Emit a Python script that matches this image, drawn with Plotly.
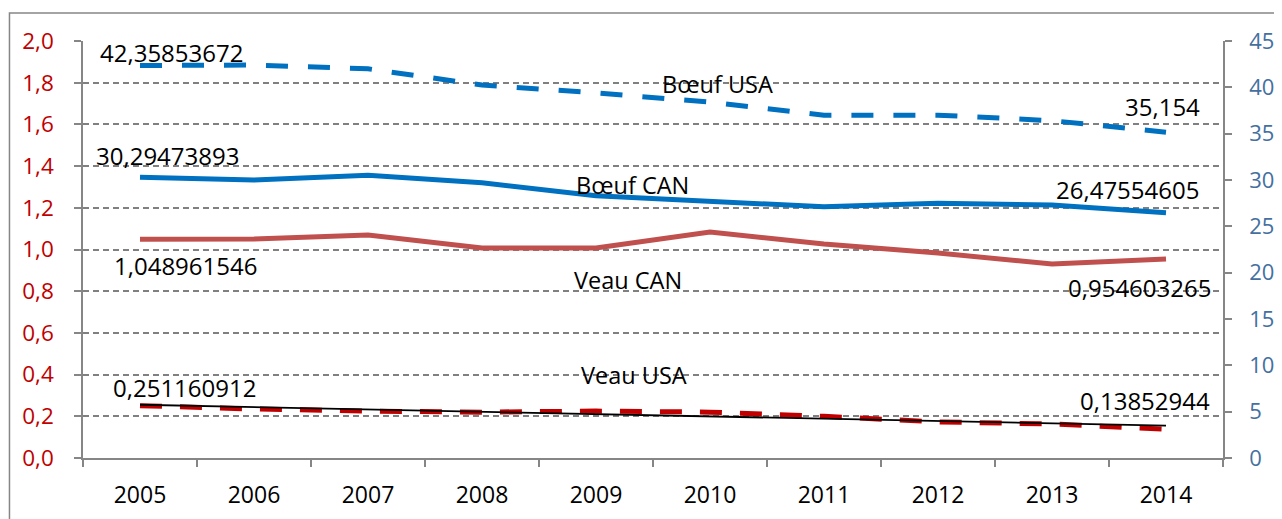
import numpy as np
import plotly.graph_objects as go

years = ["2005", "2006", "2007", "2008", "2009", "2010", "2011", "2012", "2013", "2014"]
boeuf_usa = [42.35853672, 42.4, 42.0, 40.25, 39.4, 38.4, 37.0, 37.0, 36.4, 35.154]
boeuf_can = [30.29473893, 30.0, 30.5, 29.7, 28.3, 27.7, 27.1, 27.5, 27.3, 26.47554605]
veau_can = [1.048961546, 1.05, 1.07, 1.007, 1.007, 1.084, 1.026, 0.983, 0.930, 0.954603265]
veau_usa = [0.251160912, 0.235, 0.225, 0.22, 0.225, 0.22, 0.20, 0.173, 0.163, 0.13852944]
left_ticks = [0.0, 0.2, 0.4, 0.6, 0.8, 1.0, 1.2, 1.4, 1.6, 1.8, 2.0]
right_ticks = [0, 5, 10, 15, 20, 25, 30, 35, 40, 45]

# linear trend of Veau USA
idx = np.arange(len(years))
slope, intercept = np.polyfit(idx, veau_usa, 1)
trend = list(slope * idx + intercept)

FONT = "Open Sans"
BLUE = "#0070C0"
RED = "#C0504D"
DRED = "#C00000"
GRAY = "#868686"

fig = go.Figure()
fig.add_trace(go.Scatter(x=years, y=veau_can, mode="lines", line=dict(color=RED, width=5), yaxis="y"))
fig.add_trace(go.Scatter(x=years, y=veau_usa, mode="lines", line=dict(color=DRED, width=5, dash="22px,18px"), yaxis="y"))
fig.add_trace(go.Scatter(x=years, y=trend, mode="lines", line=dict(color="black", width=1.8), yaxis="y"))
fig.add_trace(go.Scatter(x=years, y=boeuf_can, mode="lines", line=dict(color=BLUE, width=5), yaxis="y2"))
fig.add_trace(go.Scatter(x=years, y=boeuf_usa, mode="lines", line=dict(color=BLUE, width=5, dash="22px,20px"), yaxis="y2"))

def fmt(v):
    return ("%s" % v).replace(".", ",")

ann = []
labels = [
    (0, boeuf_usa[0], "y2", 31, 13),
    (0, boeuf_can[0], "y2", 27, 22),
    (0, veau_can[0], "y", 45, -26),
    (0, veau_usa[0], "y", 44, 18),
    (9, boeuf_usa[9], "y2", -4, 26),
    (9, boeuf_can[9], "y2", -39, 23),
    (9, veau_can[9], "y", -27, -29),
    (9, veau_usa[9], "y", -21, 29),
]
for i, v, yr, xs, ys in labels:
    ann.append(dict(x=i, y=v, xref="x", yref=yr, text=fmt(v), showarrow=False,
                    xshift=xs, yshift=ys, font=dict(family=FONT, size=24, color="black")))

names = [("Bœuf USA", 0.557, 0.940), ("Bœuf CAN", 0.4816, 0.655), ("Veau CAN", 0.478, 0.427), ("Veau USA", 0.483, 0.156)]
for t, x, y in names:
    ann.append(dict(x=x, y=y, xref="paper", yref="paper", text=t, showarrow=False,
                    font=dict(family=FONT, size=23.5, color="black")))

fig.update_layout(
    width=1282, height=519,
    margin=dict(l=75, r=67, t=33, b=69),
    paper_bgcolor="white", plot_bgcolor="white",
    showlegend=False,
    separators=",.",
    font=dict(family=FONT, size=22),
    annotations=ann,
    xaxis=dict(type="category", range=[-0.5, 9.5], showgrid=False, showline=True, linecolor=GRAY, linewidth=1.5,
               ticks="outside", tickson="boundaries", ticklen=7, tickcolor=GRAY, tickwidth=1.5, automargin=False,
               ticklabelstandoff=16, tickfont=dict(family=FONT, size=23, color="black")),
    yaxis=dict(range=[0, 2.0], tickvals=left_ticks, tickformat=".1f", showgrid=True, gridcolor="#808080",
               griddash="6px,4px", gridwidth=1.5, showline=True, linecolor=GRAY, linewidth=1.5,
               ticks="outside", ticklen=7, tickcolor=GRAY, tickwidth=1.5, zeroline=False, automargin=False,
               ticklabelstandoff=16, tickfont=dict(family=FONT, size=22.5, color="#C00000")),
    yaxis2=dict(range=[0, 45], tickvals=right_ticks, overlaying="y", side="right", showgrid=False,
                showline=True, linecolor=GRAY, linewidth=1.5, ticks="outside", ticklen=7, tickcolor=GRAY,
                tickwidth=1.5, zeroline=False, ticklabelstandoff=13, automargin=False,
                tickfont=dict(family=FONT, size=22, color="#44709F")),
    shapes=[dict(type="rect", xref="paper", yref="paper", x0=-0.0645, x1=1.2, y0=-0.3, y1=1.067,
                 line=dict(color=GRAY, width=1.5), fillcolor="rgba(0,0,0,0)", layer="below")],
)

fig.write_html("out.html")
